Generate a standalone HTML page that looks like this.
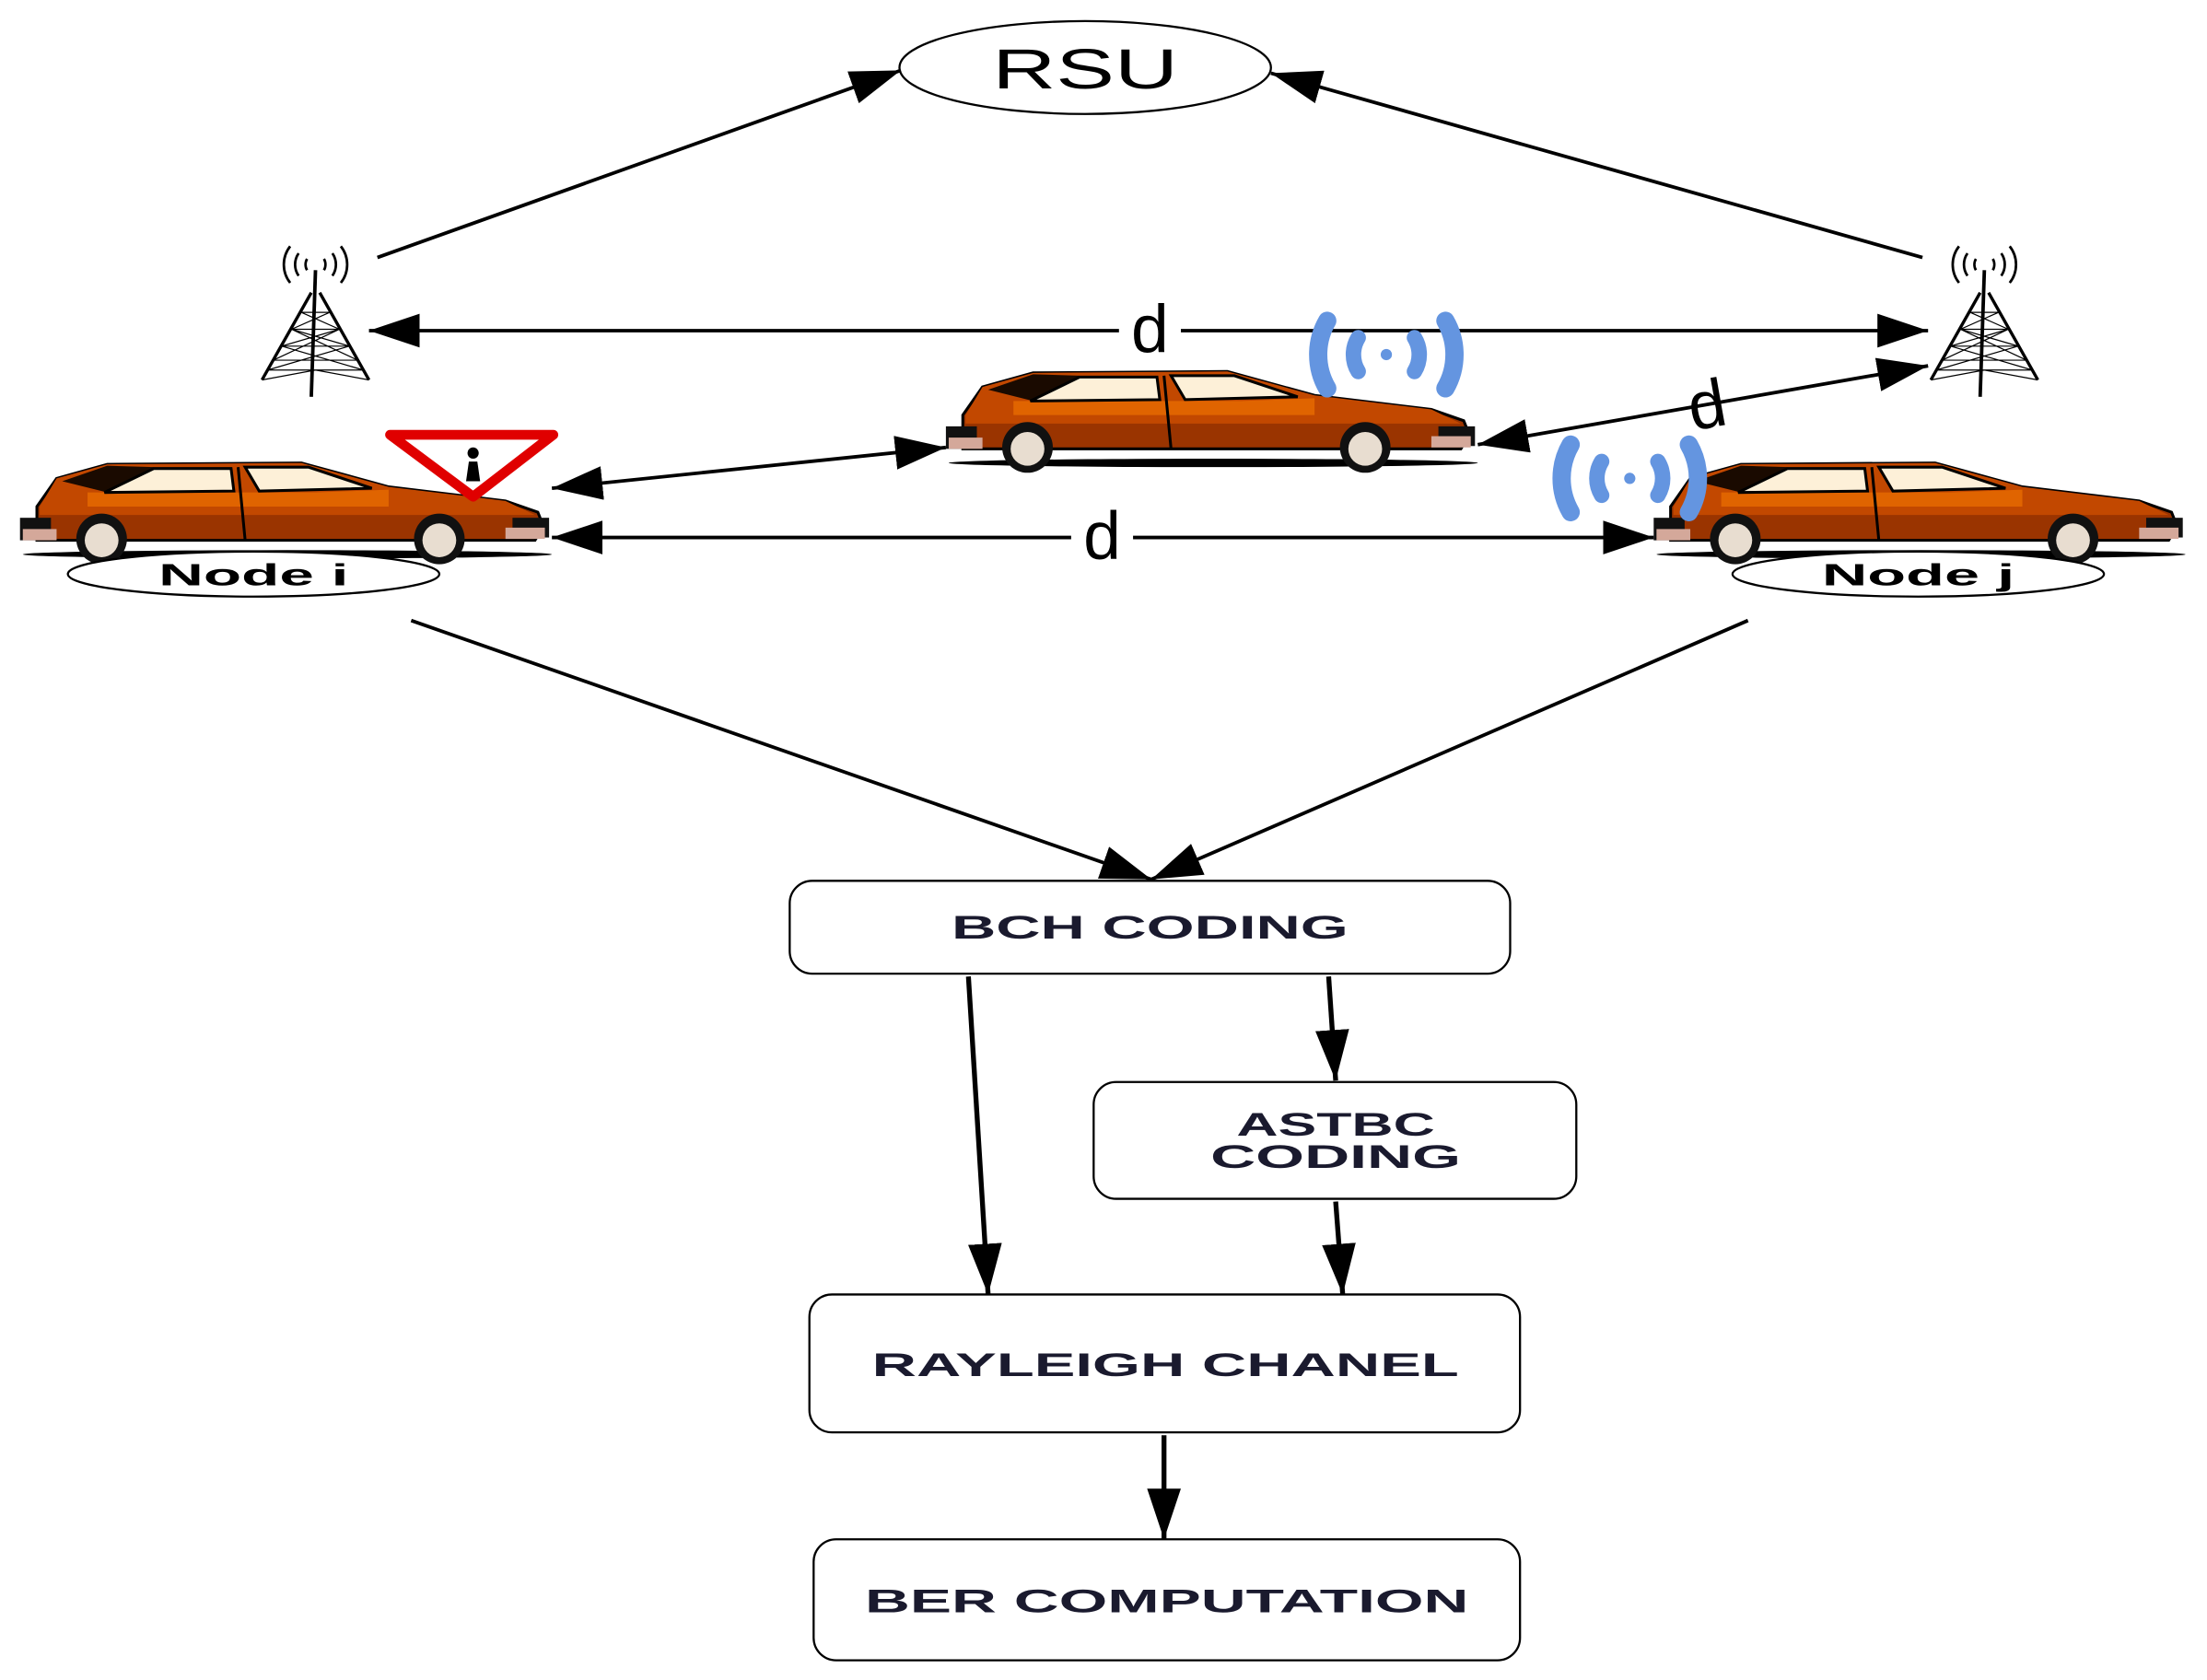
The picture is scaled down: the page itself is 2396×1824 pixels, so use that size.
<!DOCTYPE html>
<html><head><meta charset="utf-8"><style>html,body{margin:0;padding:0;background:#fff}svg{display:block}</style></head>
<body>
<svg width="2396" height="1824" viewBox="0 0 1568 1194" xmlns="http://www.w3.org/2000/svg" font-family="Liberation Sans, sans-serif">
<defs>
<marker id="a" markerUnits="userSpaceOnUse" markerWidth="40" markerHeight="26" refX="36" refY="12" orient="auto-start-reverse"><path d="M0,0 L36,12 L0,24 Z" fill="#000"/></marker>
<g id="car">
<ellipse cx="190" cy="64" rx="188" ry="3" fill="#000"/>
<path d="M12,30 L26,10 L62,0 L200,-1 L262,16 L345,26 L368,34 L372,44 L366,54 L12,54 Z" fill="#9a3400" stroke="#000" stroke-width="2"/>
<path d="M14,30 L26,10 L62,0 L200,-1 L262,16 L345,26 L366,36 L14,36 Z" fill="#c24800"/>
<path d="M48,20 L210,20 L262,18 L262,30 L48,30 Z" fill="#e06400"/>
<path d="M30,12 L62,1 L95,2 L62,20 Z" fill="#1a0a00"/>
<polygon points="60,20 95,3 150,3 152,19" fill="#fdf0d8" stroke="#000" stroke-width="2"/>
<polygon points="160,2 205,2 250,17 170,19" fill="#fdf0d8" stroke="#000" stroke-width="2"/>
<line x1="155" y1="2" x2="160" y2="54" stroke="#000" stroke-width="2"/>
<rect x="0" y="38" width="22" height="16" fill="#111"/>
<rect x="2" y="46" width="24" height="8" fill="#d4a89a"/>
<rect x="350" y="38" width="26" height="14" fill="#111"/>
<rect x="345" y="45" width="28" height="8" fill="#d4a89a"/>
<circle cx="58" cy="53" r="18" fill="#111"/><circle cx="58" cy="54" r="12" fill="#e8ddd0"/>
<circle cx="298" cy="53" r="18" fill="#111"/><circle cx="298" cy="54" r="12" fill="#e8ddd0"/>
</g>
<g id="tower" stroke="#000" fill="none">
<line x1="0" y1="-38" x2="-3" y2="52" stroke-width="2.5"/>
<path d="M-3,-22 L-38,40 M3,-22 L38,40" stroke-width="2.2"/>
<path d="M-34,33 L34,33 M-30,26 L30,26 M-24,16 L24,16 M-17,4 L17,4 M-10,-8 L10,-8 M-34,33 L24,16 L-17,4 L10,-8 M34,33 L-24,16 L17,4 L-10,-8 M-30,26 L17,4 M30,26 L-17,4 M-38,40 L0,33 L38,40" stroke-width="0.8"/>
<path d="M-12,-50 A14,14 0 0 0 -12,-34 M-18,-55 A21,21 0 0 0 -18,-29 M-6,-46 A8,8 0 0 0 -6,-38 M12,-50 A14,14 0 0 1 12,-34 M18,-55 A21,21 0 0 1 18,-29 M6,-46 A8,8 0 0 1 6,-38" stroke-width="1.8"/>
</g>
<g id="wifi" fill="none" stroke="#6495e0" stroke-linecap="round">
<path d="M-42,-24 A48,48 0 0 0 -42,24 M42,-24 A48,48 0 0 1 42,24" stroke-width="13"/>
<path d="M-20,-12 A23,23 0 0 0 -20,12 M20,-12 A23,23 0 0 1 20,12" stroke-width="11"/>
<circle cx="0" cy="0" r="4" fill="#6495e0" stroke="none"/>
</g>
</defs>

<ellipse cx="771" cy="48" rx="132" ry="33" fill="#fff" stroke="#000" stroke-width="1.5"/>
<text x="771" y="63" font-size="40" text-anchor="middle" textLength="132" lengthAdjust="spacingAndGlyphs">RSU</text>

<g stroke="#000" stroke-width="2.5" fill="none">
<line x1="268" y1="183" x2="640" y2="50" marker-end="url(#a)"/>
<line x1="1366" y1="183" x2="903" y2="52" marker-end="url(#a)"/>
<line x1="262" y1="235" x2="1370" y2="235" marker-start="url(#a)" marker-end="url(#a)"/>
<line x1="392" y1="347" x2="672" y2="318" marker-start="url(#a)" marker-end="url(#a)"/>
<line x1="1050" y1="316" x2="1370" y2="260" marker-start="url(#a)" marker-end="url(#a)"/>
<line x1="392" y1="382" x2="1175" y2="382" marker-start="url(#a)" marker-end="url(#a)"/>
<line x1="292" y1="441" x2="818" y2="625" marker-end="url(#a)"/>
<line x1="1242" y1="441" x2="818" y2="625" marker-end="url(#a)"/>
<line x1="688" y1="694" x2="702" y2="920" stroke-width="3.5" marker-end="url(#a)"/>
<line x1="944" y1="694" x2="949" y2="768" stroke-width="3.5" marker-end="url(#a)"/>
<line x1="949" y1="854" x2="954" y2="920" stroke-width="3.5" marker-end="url(#a)"/>
<line x1="827" y1="1020" x2="827" y2="1094" stroke-width="3.5" marker-end="url(#a)"/>
</g>
<rect x="795" y="218" width="44" height="34" fill="#fff"/>
<text x="817" y="250" font-size="48" text-anchor="middle">d</text>
<rect x="761" y="365" width="44" height="34" fill="#fff"/>
<text x="783" y="397" font-size="48" text-anchor="middle">d</text>
<text x="1213" y="304" font-size="48" text-anchor="middle" transform="rotate(-10 1213 289)">d</text>

<use href="#tower" x="224" y="230"/>
<use href="#tower" x="1410" y="230"/>

<use href="#car" x="14" y="330"/>
<use href="#car" x="672" y="265"/>
<use href="#car" x="1175" y="330"/>

<use href="#wifi" x="985" y="252"/>
<use href="#wifi" x="1158" y="340"/>

<polygon points="277,309 393,309 336,353" fill="none" stroke="#e00000" stroke-width="7" stroke-linejoin="round"/>
<circle cx="336" cy="322" r="4" fill="#000"/>
<path d="M333,328 L339,328 L341,342 L331,342 Z" fill="#000"/>

<ellipse cx="180" cy="408" rx="132" ry="16" fill="#fff" stroke="#000" stroke-width="1.5"/>
<text x="180" y="416" font-size="22" font-weight="bold" text-anchor="middle" textLength="135" lengthAdjust="spacingAndGlyphs">Node i</text>
<ellipse cx="1363" cy="408" rx="132" ry="16" fill="#fff" stroke="#000" stroke-width="1.5"/>
<text x="1363" y="416" font-size="22" font-weight="bold" text-anchor="middle" textLength="137" lengthAdjust="spacingAndGlyphs">Node j</text>

<g fill="#fff" stroke="#000" stroke-width="1.5">
<rect x="561" y="626" width="512" height="66" rx="16"/>
<rect x="777" y="769" width="343" height="83" rx="16"/>
<rect x="575" y="920" width="505" height="98" rx="16"/>
<rect x="578" y="1094" width="502" height="86" rx="16"/>
</g>
<g font-size="23" font-weight="bold" fill="#1a1a2e" text-anchor="middle" lengthAdjust="spacingAndGlyphs">
<text x="817" y="667" textLength="282" lengthAdjust="spacingAndGlyphs">BCH CODING</text>
<text x="949" y="807" textLength="141" lengthAdjust="spacingAndGlyphs">ASTBC</text>
<text x="949" y="830" textLength="178" lengthAdjust="spacingAndGlyphs">CODING</text>
<text x="828" y="978" textLength="417" lengthAdjust="spacingAndGlyphs">RAYLEIGH CHANEL</text>
<text x="829" y="1146" textLength="429" lengthAdjust="spacingAndGlyphs">BER COMPUTATION</text>
</g>
</svg>
</body></html>
